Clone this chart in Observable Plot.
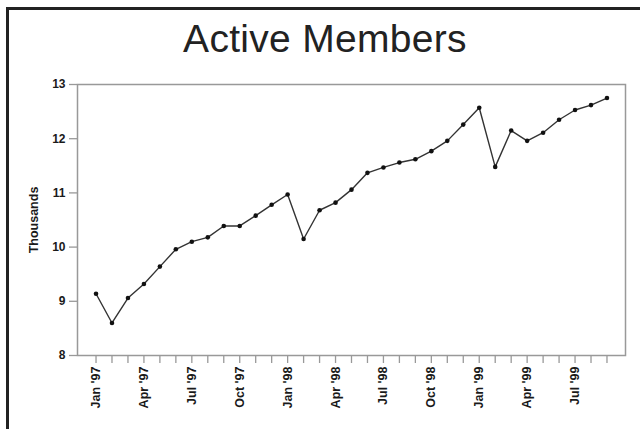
<!DOCTYPE html>
<html>
<head>
<meta charset="utf-8">
<script src="https://cdn.jsdelivr.net/npm/d3@7"></script>
<script src="https://cdn.jsdelivr.net/npm/@observablehq/plot@0.6"></script>
<style>
  html, body { margin: 0; padding: 0; background: #fff; }
  #wrap { position: relative; width: 640px; height: 429px; overflow: hidden; background: #fff; }
  #border { position: absolute; left: 6px; top: 7px; width: 700px; height: 500px;
            border-left: 3px solid #222; border-top: 3px solid #222; pointer-events: none; }
  #title { height: 75px; box-sizing: border-box; padding-top: 19px; padding-left: 10px;
           font-family: "Liberation Sans", Arial, sans-serif; font-size: 39px; line-height: 40px;
           font-weight: normal; color: #222; text-align: center; letter-spacing: 0.3px; }
</style>
</head>
<body>
<div id="wrap">
  <div id="title">Active Members</div>
  <div id="chart"></div>
  <div id="border"></div>
</div>
<script>
const months = [
  "Jan '97","Feb '97","Mar '97","Apr '97","May '97","Jun '97","Jul '97","Aug '97","Sep '97","Oct '97","Nov '97","Dec '97",
  "Jan '98","Feb '98","Mar '98","Apr '98","May '98","Jun '98","Jul '98","Aug '98","Sep '98","Oct '98","Nov '98","Dec '98",
  "Jan '99","Feb '99","Mar '99","Apr '99","May '99","Jun '99","Jul '99","Aug '99","Sep '99"
];
const members = [
  9.14, 8.60, 9.06, 9.32, 9.64, 9.96, 10.10, 10.18, 10.39, 10.39, 10.58, 10.78,
  10.97, 10.15, 10.68, 10.82, 11.06, 11.37, 11.47, 11.56, 11.62, 11.77, 11.96, 12.26,
  12.57, 11.48, 12.15, 11.96, 12.11, 12.35, 12.53, 12.62, 12.75
];
const yTicks = [8, 9, 10, 11, 12, 13];
const labeledMonths = ["Jan '97","Apr '97","Jul '97","Oct '97","Jan '98","Apr '98","Jul '98","Oct '98","Jan '99","Apr '99","Jul '99"];
const yLabel = "Thousands";

const data = months.map((m, i) => ({month: m, value: members[i]}));

const chart = Plot.plot({
  width: 640,
  height: 354,
  marginTop: 9,
  marginLeft: 77,
  marginRight: 15,
  marginBottom: 74,
  style: {
    background: "transparent",
    fontFamily: "'Liberation Sans', Arial, sans-serif",
    fontSize: "12px",
    fontWeight: "bold",
    color: "#1a1a1a"
  },
  x: {type: "point", domain: months, padding: 1.16},
  y: {domain: [8, 13]},
  marks: [
    Plot.frame({stroke: "#999", strokeWidth: 1.5}),
    Plot.axisY({ticks: yTicks, tickSize: 8, tickPadding: 4, stroke: "#999", strokeWidth: 1.3,
                tickFormat: d => String(d), label: null}),
    Plot.axisX({ticks: months, tickSize: 8, tickPadding: 3, tickRotate: -90, stroke: "#999", strokeWidth: 1.3,
                tickFormat: d => labeledMonths.includes(d) ? d : "", label: null,
                fontSize: 12.5}),
    Plot.text([yLabel], {text: d => d, frameAnchor: "left", dx: -44, rotate: -90, textAnchor: "middle",
                         fontSize: 12.5, fontWeight: "bold", fill: "#1a1a1a"}),
    Plot.line(data, {x: "month", y: "value", stroke: "#333", strokeWidth: 1.4}),
    Plot.dot(data, {x: "month", y: "value", r: 2.3, fill: "#111", stroke: "none"})
  ]
});
document.getElementById("chart").appendChild(chart);
</script>
</body>
</html>
